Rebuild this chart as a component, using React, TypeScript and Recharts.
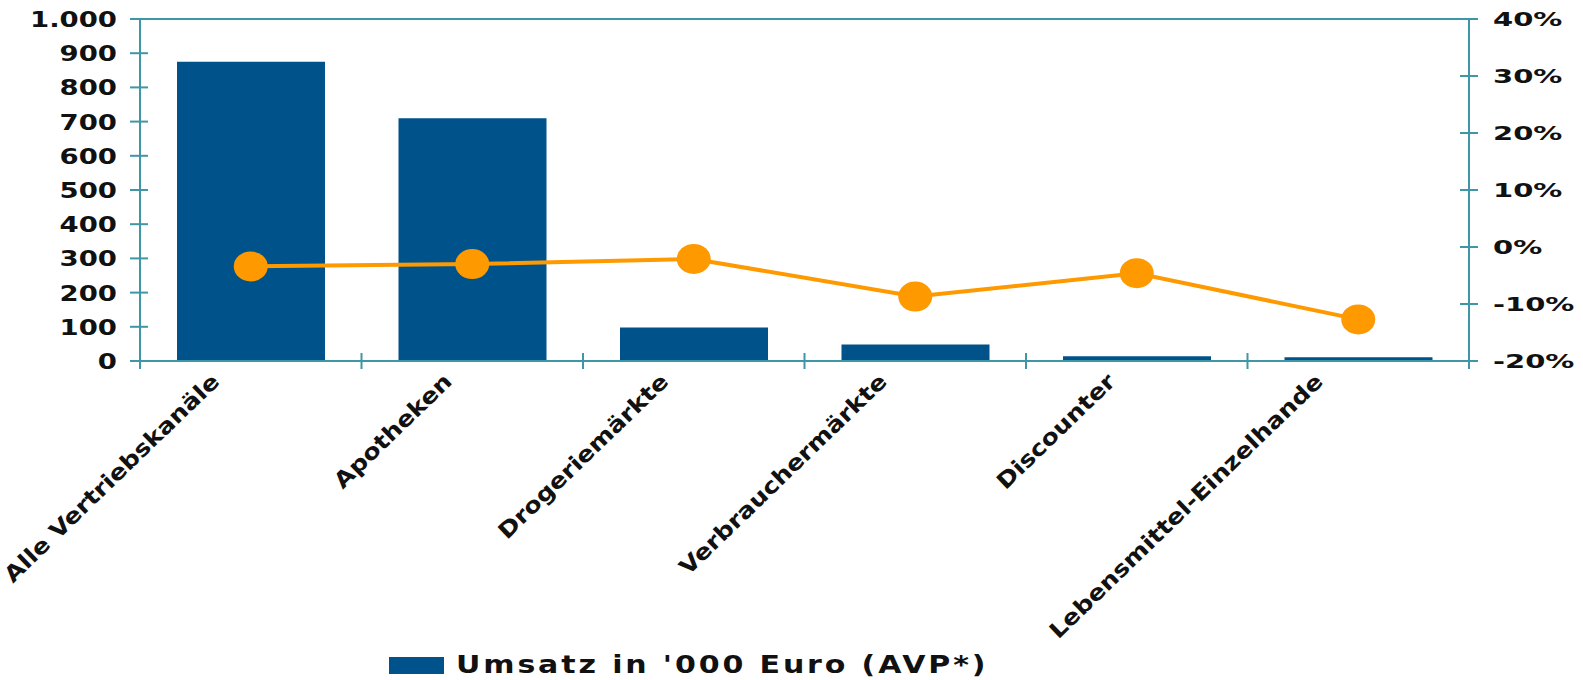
import React from 'react';
import { ComposedChart, Bar, Line, XAxis, YAxis, Legend, ReferenceLine } from 'recharts';

const kanaele = [
  'Alle Vertriebskanäle',
  'Apotheken',
  'Drogeriemärkte',
  'Verbrauchermärkte',
  'Discounter',
  'Lebensmittel-Einzelhande',
];
const umsatz = [875, 710, 98, 48, 14, 11];
const veraenderung = [-3.4, -3.0, -2.1, -8.7, -4.6, -12.7];
const umsatzTicks = [0, 100, 200, 300, 400, 500, 600, 700, 800, 900, 1000];
const prozentTicks = [-20, -10, 0, 10, 20, 30, 40];

const data = kanaele.map((kanal, i) => ({
  kanal,
  umsatz: umsatz[i],
  veraenderung: veraenderung[i],
}));

const BLAU = '#00538A';
const ORANGE = '#FF9900';
const ACHSE = '#3F97A5';
const TEXT = '#111111';
const SCHRIFT = "'DejaVu Sans', Verdana, sans-serif";

const fmtTausend = (v: number) => String(v).replace(/\B(?=(\d{3})+(?!\d))/g, '.');

const LinksTick = ({ x, y, payload }: any) => (
  <g>
    <line x1={x - 10} x2={x + 8} y1={y} y2={y} stroke={ACHSE} strokeWidth={2} />
    <text
      transform={`translate(${x - 23},${y}) scale(1.25,1)`}
      textAnchor="end"
      dy="0.36em"
      fontSize={22}
      fontWeight="bold"
      fontFamily={SCHRIFT}
      fill={TEXT}
    >
      {fmtTausend(payload.value)}
    </text>
  </g>
);

const RechtsTick = ({ x, y, payload }: any) => (
  <g>
    <line x1={x - 9} x2={x + 9} y1={y} y2={y} stroke={ACHSE} strokeWidth={2} />
    <text
      transform={`translate(${x + 24},${y}) scale(1.45,1)`}
      textAnchor="start"
      dy="0.36em"
      fontSize={20}
      fontWeight="bold"
      fontFamily={SCHRIFT}
      fill={TEXT}
    >
      {`${payload.value}%`}
    </text>
  </g>
);

// rotated labels: longer names sit a bit further left of the category centre
const KanalTick = ({ x, y, payload, index, visibleTicksCount, width }: any) => {
  const halb = payload.offset ?? width / visibleTicksCount / 2;
  const verschub = -10 - String(payload.value).length;
  return (
    <g>
      <line x1={x - halb} x2={x - halb} y1={y - 8} y2={y + 8} stroke={ACHSE} strokeWidth={2} />
      {index === visibleTicksCount - 1 && (
        <line x1={x + halb} x2={x + halb} y1={y - 8} y2={y + 8} stroke={ACHSE} strokeWidth={2} />
      )}
      <text
        transform={`translate(${x + verschub},${y + 22}) rotate(-44) scale(1.15,1)`}
        textAnchor="end"
        fontSize={22}
        fontWeight="bold"
        fontFamily={SCHRIFT}
        fill={TEXT}
      >
        {payload.value}
      </text>
    </g>
  );
};

const Punkt = (props: any) => (
  <ellipse key={props.index} cx={props.cx} cy={props.cy} rx={17} ry={15} fill={ORANGE} />
);

const LegendeInhalt = ({ payload }: any) => (
  <div style={{ display: 'flex', fontFamily: SCHRIFT }}>
    {(payload || [])
      .filter((p: any) => p.type !== 'none' && p.dataKey === 'umsatz')
      .map((p: any) => (
        <div key={p.value} style={{ display: 'flex', alignItems: 'flex-start' }}>
          <span style={{ display: 'inline-block', width: 55, height: 17, marginTop: 5, background: p.color }} />
          <span
            style={{
              display: 'inline-block',
              marginLeft: 12,
              fontSize: 25,
              lineHeight: '25px',
              fontWeight: 'bold',
              letterSpacing: 2.4,
              transform: 'scaleX(1.2)',
              transformOrigin: 'left',
              whiteSpace: 'nowrap',
              color: TEXT,
            }}
          >
            {p.value}
          </span>
        </div>
      ))}
  </div>
);

export default function App() {
  return (
    <div>
      <style>{'body{margin:0}'}</style>
      <ComposedChart width={1583} height={680} data={data} margin={{ top: 19, right: 0, bottom: 0, left: 0 }}>
        <XAxis
          dataKey="kanal"
          height={319}
          interval={0}
          tickSize={0}
          tickMargin={0}
          tickLine={false}
          axisLine={{ stroke: ACHSE, strokeWidth: 2 }}
          tick={<KanalTick />}
        />
        <YAxis
          yAxisId="links"
          width={140}
          domain={[0, 1000]}
          ticks={umsatzTicks}
          interval={0}
          tickSize={0}
          tickMargin={0}
          tickLine={false}
          axisLine={{ stroke: ACHSE, strokeWidth: 2 }}
          tick={<LinksTick />}
        />
        <YAxis
          yAxisId="rechts"
          orientation="right"
          width={114}
          domain={[-20, 40]}
          ticks={prozentTicks}
          interval={0}
          tickSize={0}
          tickMargin={0}
          tickLine={false}
          axisLine={{ stroke: ACHSE, strokeWidth: 2 }}
          tick={<RechtsTick />}
        />
        <ReferenceLine yAxisId="links" y={1000} stroke={ACHSE} strokeWidth={2} />
        <Bar
          yAxisId="links"
          dataKey="umsatz"
          name="Umsatz in '000 Euro (AVP*)"
          fill={BLAU}
          barSize={148}
          isAnimationActive={false}
        />
        <Line
          yAxisId="rechts"
          dataKey="veraenderung"
          type="linear"
          stroke={ORANGE}
          strokeWidth={4}
          dot={Punkt}
          activeDot={false}
          legendType="none"
          isAnimationActive={false}
        />
        <Legend
          layout="horizontal"
          verticalAlign="middle"
          align="center"
          content={<LegendeInhalt />}
          wrapperStyle={{ left: 389, top: 652, width: 'auto', height: 'auto' }}
        />
      </ComposedChart>
    </div>
  );
}
